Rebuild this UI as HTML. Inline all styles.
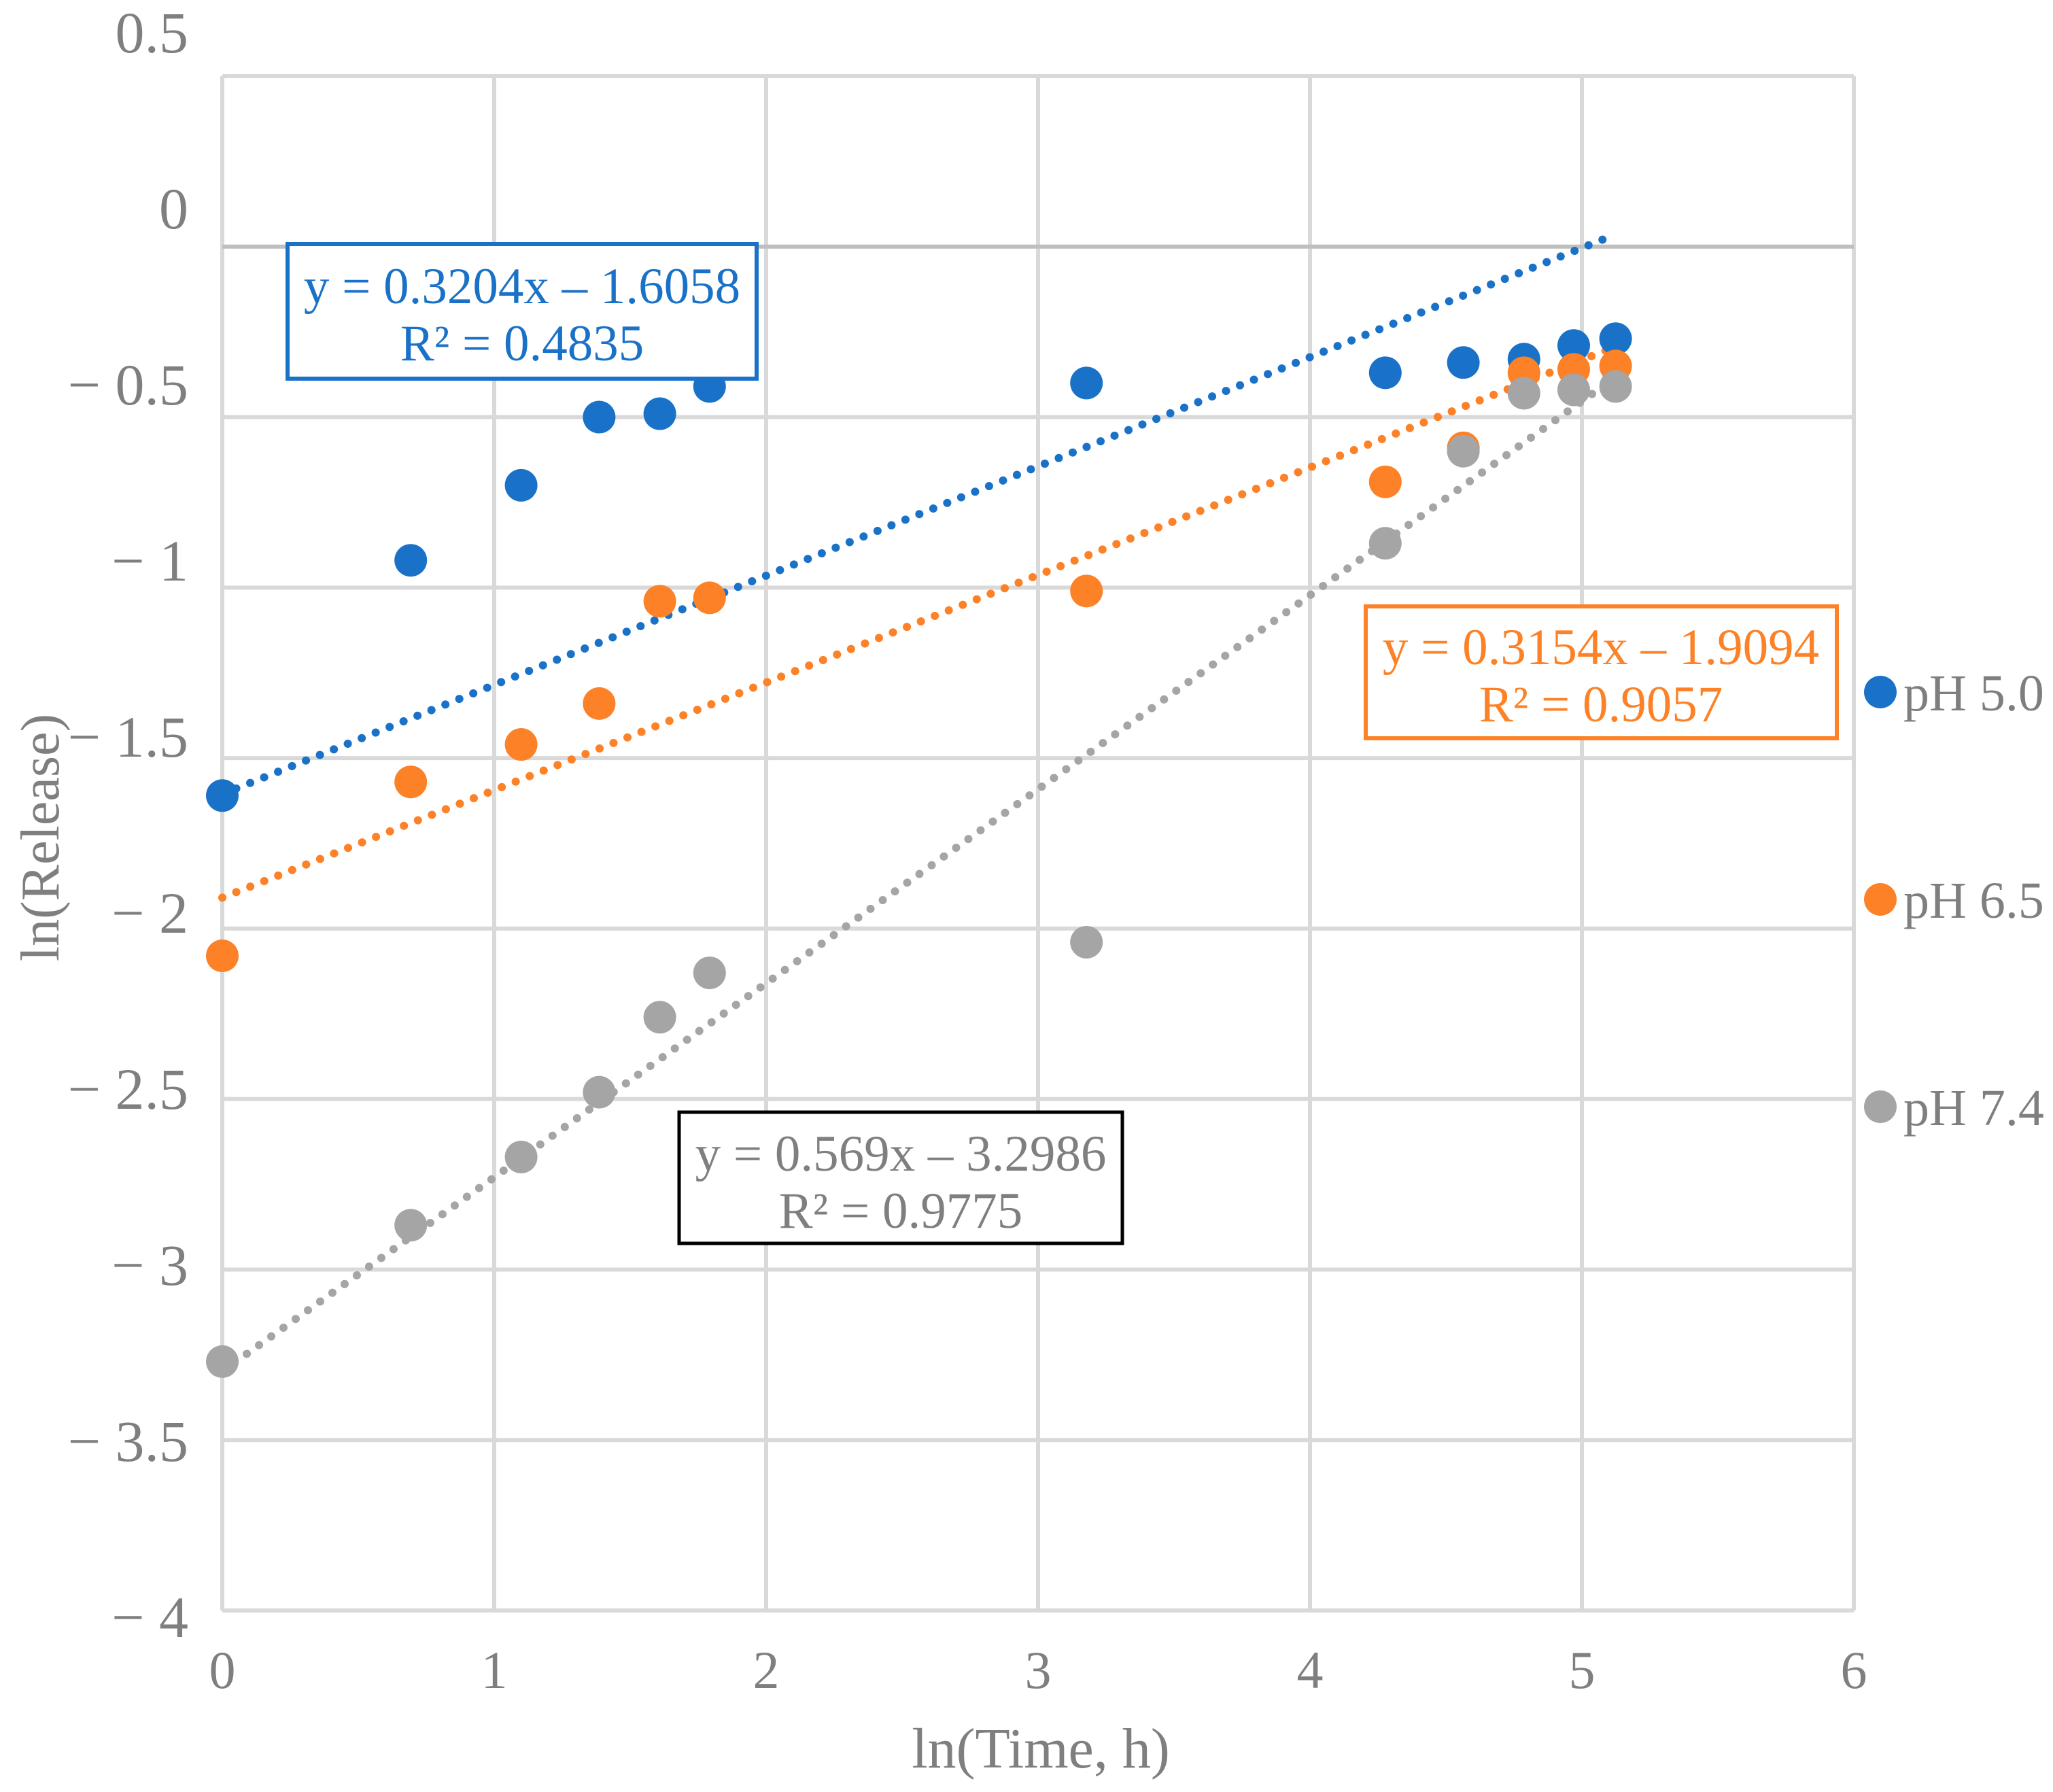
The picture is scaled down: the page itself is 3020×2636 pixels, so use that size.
<!DOCTYPE html>
<html><head><meta charset="utf-8"><style>
html,body{margin:0;padding:0;background:#fff;}
svg{display:block;font-family:"Liberation Serif",serif;}
</style></head><body>
<svg id="chart" width="3020" height="2636" viewBox="0 0 3020 2636" xmlns="http://www.w3.org/2000/svg">
<g id="grid"></g>
<g id="ticks"></g>
<g id="trends"></g>
<g id="points"></g>
<text x="1531" y="2600" font-size="84" fill="#7f7f7f" text-anchor="middle">ln(Time, h)</text>
<text transform="translate(86,1232) rotate(-90)" font-size="80" fill="#7f7f7f" text-anchor="middle">ln(Release)</text>
<g>
<rect x="423" y="359" width="690" height="198" fill="#fff" stroke="#1a72c8" stroke-width="6"/>
<text x="768" y="446" font-size="75" fill="#1a72c8" text-anchor="middle">y = 0.3204x – 1.6058</text>
<text x="768" y="530" font-size="75" fill="#1a72c8" text-anchor="middle">R² = 0.4835</text>
</g>
<g>
<rect x="2009" y="892" width="693" height="194" fill="#fff" stroke="#fd8126" stroke-width="6"/>
<text x="2355" y="977" font-size="75" fill="#fd8126" text-anchor="middle">y = 0.3154x – 1.9094</text>
<text x="2355" y="1061" font-size="75" fill="#fd8126" text-anchor="middle">R² = 0.9057</text>
</g>
<g>
<rect x="999" y="1636" width="652" height="193" fill="#fff" stroke="#000" stroke-width="5"/>
<text x="1325" y="1722" font-size="75" fill="#7f7f7f" text-anchor="middle">y = 0.569x – 3.2986</text>
<text x="1325" y="1806" font-size="75" fill="#7f7f7f" text-anchor="middle">R² = 0.9775</text>
</g>
<g id="legend"></g>
</svg>
<script>
const xValues = [0, 0.693, 1.099, 1.386, 1.609, 1.792, 3.178, 4.277, 4.564, 4.787, 4.970, 5.124];
const ph50 = [-1.61, -0.92, -0.70, -0.50, -0.49, -0.41, -0.40, -0.37, -0.34, -0.33, -0.29, -0.27];
const ph65 = [-2.08, -1.57, -1.46, -1.34, -1.04, -1.03, -1.01, -0.69, -0.59, -0.37, -0.36, -0.35];
const ph74 = [-3.27, -2.87, -2.67, -2.48, -2.26, -2.13, -2.04, -0.87, -0.60, -0.43, -0.42, -0.41];
const seriesNames = ["pH 5.0", "pH 6.5", "pH 7.4"];
const slopes = [0.3204, 0.3154, 0.569];
const intercepts = [-1.6058, -1.9094, -3.2986];
const xTicks = [0, 1, 2, 3, 4, 5, 6];
const yTicks = [0.5, 0, -0.5, -1, -1.5, -2, -2.5, -3, -3.5, -4];
const yTickLabels = ["0.5", "0", "− 0.5", "− 1", "− 1.5", "− 2", "− 2.5", "− 3", "− 3.5", "− 4"];

const NS = "http://www.w3.org/2000/svg";
const colors = ["#1a72c8", "#fd8126", "#a5a5a5"];
const X0 = 327, X1 = 2727, Y0 = 112, Y1 = 2369;
const xs = v => X0 + (v - 0) / 6 * (X1 - X0);
const ys = v => Y0 + (0.5 - v) / 4.5 * (Y1 - Y0);
function mk(tag, attrs, parent) { const e = document.createElementNS(NS, tag); for (const k in attrs) e.setAttribute(k, attrs[k]); parent.appendChild(e); return e; }

const grid = document.getElementById('grid');
xTicks.forEach(t => {
  const l = mk('line', {x1: xs(t), x2: xs(t), y1: Y0, y2: Y1, stroke: '#d9d9d9', 'stroke-width': 6}, grid);
  
  
});
yTicks.forEach(t => {
  const l = mk('line', {x1: X0, x2: X1, y1: ys(t), y2: ys(t), stroke: t === 0 ? '#bfbfbf' : '#d9d9d9', 'stroke-width': 6}, grid);
  
  
});
const ticks = document.getElementById('ticks');
xTicks.forEach(t => {
  const e = mk('text', {x: xs(t), y: 2483, 'font-size': 78, fill: '#7f7f7f', 'text-anchor': 'middle'}, ticks);
  e.textContent = String(t);
  
  
});
yTicks.forEach((t, i) => {
  const cy = 1343 + (-2 - t) * 518;
  const e = mk('text', {x: 277, y: cy + 29, 'font-size': 86, fill: '#7f7f7f', 'text-anchor': 'end'}, ticks);
  e.textContent = yTickLabels[i];
  
  
});
const trends = document.getElementById('trends');
slopes.forEach((m, i) => {
  const xe = xValues[xValues.length - 1];
  const l = mk('line', {x1: xs(0), y1: ys(intercepts[i]), x2: xs(xe), y2: ys(m * xe + intercepts[i]), stroke: colors[i], 'stroke-width': 12, 'stroke-linecap': 'round', 'stroke-dasharray': '0.1 22'}, trends);
  
  
});
const pts = document.getElementById('points');
[ph50, ph65, ph74].forEach((s, si) => {
  s.forEach((v, i) => {
    const c = mk('circle', {cx: xs(xValues[i]), cy: ys(v), r: 24, fill: colors[si]}, pts);
    
    
  });
});
const leg = document.getElementById('legend');
const legY = [1018, 1323, 1628];
seriesNames.forEach((n, i) => {
  const c = mk('circle', {cx: 2766, cy: legY[i], r: 24, fill: colors[i]}, leg);
  
  
  const t = mk('text', {x: 2800, y: legY[i] + 27, 'font-size': 76, fill: '#7f7f7f'}, leg);
  t.textContent = n;
  
  
});
</script>
</body></html>
